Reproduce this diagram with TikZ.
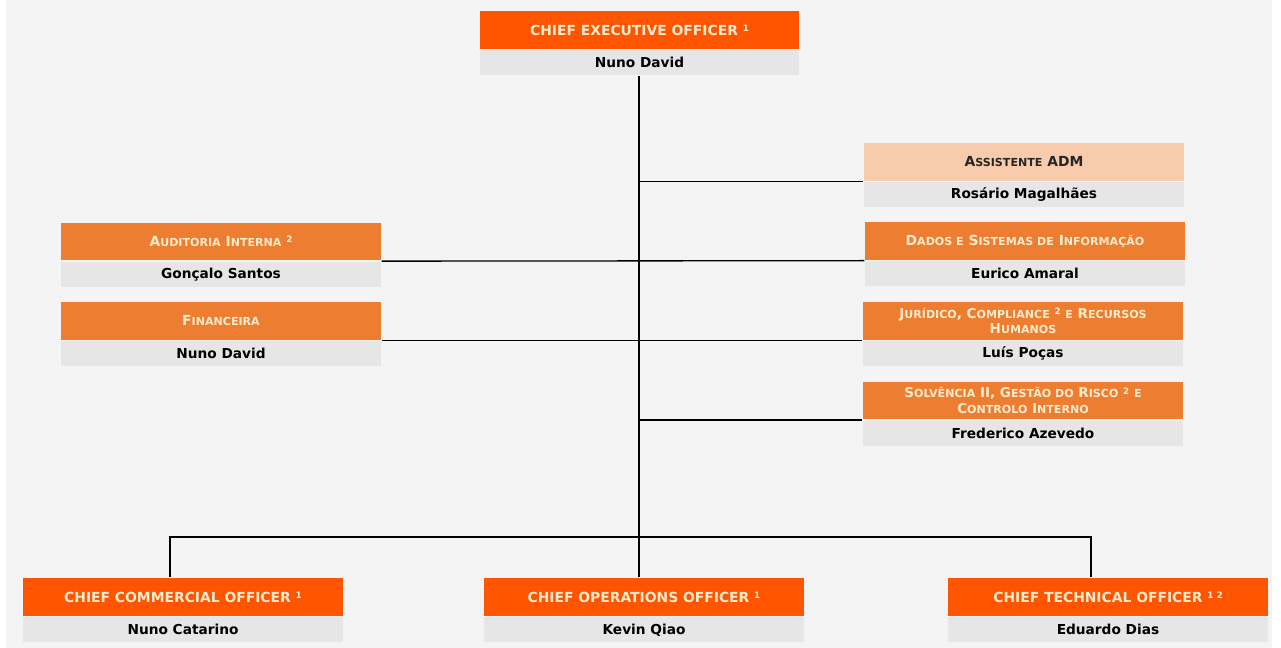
\documentclass[tikz,border=0pt]{standalone}
\usepackage{fontspec}
\setmainfont{DejaVu Sans}
\usetikzlibrary{positioning}

\definecolor{pagebg}{HTML}{F4F4F4}
\definecolor{cxo}{HTML}{FF5500}
\definecolor{dept}{HTML}{ED7D31}
\definecolor{assist}{HTML}{F8CBAD}
\definecolor{namebar}{HTML}{E6E6E6}
\definecolor{cream}{HTML}{FCEBCB}

\newcommand{\lc}[1]{{\fontsize{6.3}{9}\selectfont #1}}
\newcommand{\supnum}[1]{\raisebox{0.5ex}{\fontsize{5}{5}\selectfont #1}}

\tikzstyle{titlebox}=[inner sep=0pt, minimum width=6.4cm, minimum height=0.76cm, align=center,
  text=cream, font=\bfseries\fontsize{7.9}{9}\selectfont]
\tikzstyle{chief}=[titlebox, fill=cxo]
\tikzstyle{unit}=[titlebox, fill=dept]
\tikzstyle{person}=[inner sep=0pt, minimum width=6.4cm, minimum height=0.5cm, fill=namebar,
  text=black, font=\bfseries\fontsize{7.8}{8}\selectfont]

\begin{document}
\begin{tikzpicture}[x=0.02cm, y=-0.02cm, line width=0.75pt]
	\fill[white] (0,0) rectangle (1281,648);
	\fill[pagebg] (6,0) rectangle (1272,648);
	% top
	\node[chief] (hdCEO) at (639.5,30) {CHIEF EXECUTIVE OFFICER \supnum{1}};
	\node[person, below=0pt of hdCEO] (nmCEO) {Nuno David};
	% right column
	\node[titlebox, fill=assist, text=black!85] (hdAss) at (1024,162) {A\lc{SSISTENTE} ADM};
	\node[person, below=0pt of hdAss] (nmAss) {Rosário Magalhães};
	\node[unit] (hdDad) at (1025,241) {D\lc{ADOS E} S\lc{ISTEMAS DE} I\lc{NFORMAÇÃO}};
	\node[person, below=0pt of hdDad] (nmDad) {Eurico Amaral};
	\node[unit, font=\bfseries\fontsize{7.7}{8.8}\selectfont] (hdJur) at (1023,321) {J\lc{URÍDICO}, C\lc{OMPLIANCE} \supnum{2} \lc{E} R\lc{ECURSOS}\\H\lc{UMANOS}};
	\node[person, below=0pt of hdJur] (nmJur) {Luís Poças};
	\node[unit, font=\bfseries\fontsize{7.7}{8.8}\selectfont] (hdSol) at (1023,400.5) {S\lc{OLVÊNCIA} II, G\lc{ESTÃO DO} R\lc{ISCO} \supnum{2} \lc{E}\\C\lc{ONTROLO} I\lc{NTERNO}};
	\node[person, below=0pt of hdSol] (nmSol) {Frederico Azevedo};
	% left column
	\node[unit] (hdAud) at (221,241.5) {A\lc{UDITORIA} I\lc{NTERNA} \supnum{2}};
	\node[person, below=0pt of hdAud] (nmAud) {Gonçalo Santos};
	\node[unit] (hdFin) at (221,321) {F\lc{INANCEIRA}};
	\node[person, below=0pt of hdFin] (nmFin) {Nuno David};
	% bottom row
	\node[chief] (hdCCO) at (183,597) {CHIEF COMMERCIAL OFFICER \supnum{1}};
	\node[person, below=0pt of hdCCO] (nmCCO) {Nuno Catarino};
	\node[chief] (hdCOO) at (644,597) {CHIEF OPERATIONS OFFICER \supnum{1}};
	\node[person, below=0pt of hdCOO] (nmCOO) {Kevin Qiao};
	\node[chief] (hdCTO) at (1108,597) {CHIEF TECHNICAL OFFICER \supnum{1 2}};
	\node[person, below=0pt of hdCTO] (nmCTO) {Eduardo Dias};
	% connectors
	\coordinate (hub) at (639,537);
	\coordinate (dropL) at (170,537);
	\coordinate (dropR) at (1091,537);
	\draw (nmCEO.south -| hub) -- (hub);
	\draw (hub |- hdAss.south west) -- (hdAss.south west);
	\draw (hdAud.south east) -- (hdDad.south west);
	\draw (hdFin.south east) -- (hdJur.south west);
	\draw (hub |- hdSol.south west) -- (hdSol.south west);
	\draw (dropL |- hdCCO.north) -- (dropL) -- (dropR) -- (dropR |- hdCTO.north);
	\draw (hub) -- (hub |- hdCOO.north);
\end{tikzpicture}
\end{document}
